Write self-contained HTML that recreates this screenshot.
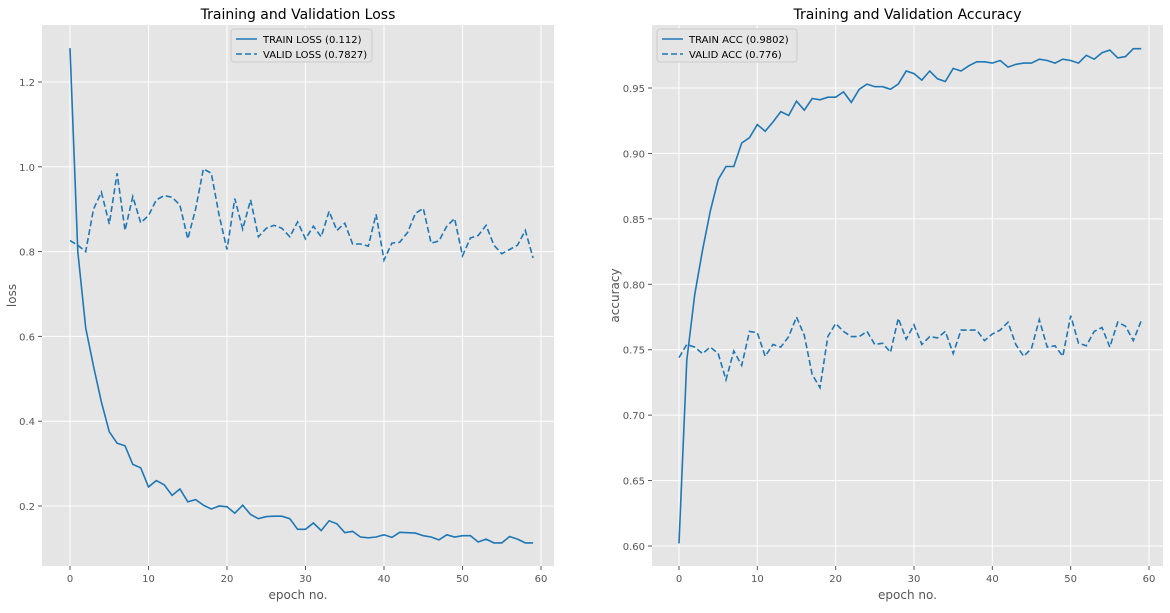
<!DOCTYPE html>
<html><head><meta charset="utf-8"><style>
body{margin:0;background:#fff;font-family:"DejaVu Sans",sans-serif}
svg text{font-family:"DejaVu Sans",sans-serif}
</style></head><body>
<svg id="c" width="1170" height="609"></svg>
<script>
const epochs = Array.from({length:60},(_,i)=>i);
const trainLoss=[1.28,0.80,0.62,0.53,0.445,0.375,0.348,0.342,0.298,0.29,0.245,0.26,0.25,0.225,0.24,0.21,0.215,0.202,0.193,0.2,0.198,0.183,0.202,0.18,0.17,0.175,0.176,0.176,0.17,0.145,0.145,0.16,0.142,0.165,0.158,0.137,0.14,0.127,0.125,0.127,0.132,0.126,0.138,0.137,0.136,0.13,0.127,0.12,0.132,0.127,0.13,0.13,0.115,0.122,0.113,0.113,0.128,0.122,0.113,0.113];
const validLoss=[0.826,0.815,0.80,0.90,0.94,0.865,0.985,0.85,0.93,0.868,0.885,0.922,0.932,0.928,0.91,0.83,0.90,0.995,0.985,0.885,0.805,0.925,0.853,0.922,0.835,0.855,0.862,0.855,0.835,0.87,0.83,0.86,0.835,0.895,0.85,0.867,0.818,0.818,0.813,0.888,0.78,0.82,0.822,0.845,0.89,0.902,0.82,0.825,0.86,0.878,0.79,0.832,0.838,0.862,0.815,0.795,0.805,0.815,0.85,0.785];
const trainAcc=[0.602,0.742,0.792,0.826,0.856,0.880,0.890,0.890,0.908,0.912,0.922,0.917,0.924,0.932,0.929,0.940,0.933,0.942,0.941,0.943,0.943,0.947,0.939,0.949,0.953,0.951,0.951,0.949,0.953,0.963,0.961,0.956,0.963,0.957,0.955,0.965,0.963,0.967,0.970,0.970,0.969,0.971,0.966,0.968,0.969,0.969,0.972,0.971,0.969,0.972,0.971,0.969,0.975,0.972,0.977,0.979,0.973,0.974,0.980,0.980];
const validAcc=[0.744,0.754,0.752,0.747,0.752,0.747,0.727,0.749,0.738,0.764,0.763,0.745,0.754,0.752,0.760,0.775,0.761,0.731,0.721,0.760,0.770,0.764,0.760,0.760,0.764,0.754,0.755,0.748,0.774,0.758,0.769,0.754,0.760,0.759,0.764,0.747,0.765,0.765,0.765,0.757,0.762,0.765,0.771,0.754,0.745,0.751,0.773,0.752,0.753,0.745,0.776,0.755,0.753,0.764,0.767,0.752,0.771,0.768,0.757,0.772];
const xTicks=[0,10,20,30,40,50,60];
const lossTicks=[0.2,0.4,0.6,0.8,1.0,1.2];
const accTicks=[0.60,0.65,0.70,0.75,0.80,0.85,0.90,0.95];

const svg=document.getElementById('c');
const NS='http://www.w3.org/2000/svg';
function mk(tag,attrs,parent,txt){const e=document.createElementNS(NS,tag);for(const k in attrs)e.setAttribute(k,attrs[k]);if(txt!==undefined)e.textContent=txt;(parent||svg).appendChild(e);return e;}

function panel(cfg){
  const g=mk('g',{});
  
  
  const {x0,x1,y0,y1}=cfg;
  const sx=v=>cfg.px0+(v-0)*(cfg.px60-cfg.px0)/60;
  const sy=v=>cfg.pyA+(v-cfg.vA)*(cfg.pyB-cfg.pyA)/(cfg.vB-cfg.vA);
  const bg=mk('rect',{x:x0,y:y0,width:x1-x0,height:y1-y0,fill:'#e5e5e5'},g);
  
  
  xTicks.forEach(t=>{const X=sx(t);
    mk('line',{x1:X,x2:X,y1:y0,y2:y1,stroke:'#fff','stroke-width':1},g);
    mk('line',{x1:X,x2:X,y1:y1,y2:y1+4,stroke:'#555'},g);
    const tl=mk('text',{x:X,y:y1+16,'font-size':10,fill:'#555','text-anchor':'middle'},g,String(t));
    
    
  });
  cfg.yTicks.forEach(t=>{const Y=sy(t);
    mk('line',{x1:x0,x2:x1,y1:Y,y2:Y,stroke:'#fff','stroke-width':1},g);
    mk('line',{x1:x0-4,x2:x0,y1:Y,y2:Y,stroke:'#555'},g);
    const tl=mk('text',{x:x0-7,y:Y+4,'font-size':10,fill:'#555','text-anchor':'end'},g,t.toFixed(cfg.dec));
    
    
  });
  const mkLine=(arr,dash,nm)=>{
    const d=arr.map((v,i)=>(i?'L':'M')+sx(epochs[i]).toFixed(1)+','+sy(v).toFixed(1)).join('');
    const p=mk('path',{d:d,fill:'none',stroke:'#1f77b4','stroke-width':1.6,'stroke-dasharray':dash||'none'},g);
    
    
  };
  mkLine(cfg.train,null,'train-line');
  mkLine(cfg.valid,'6,3','valid-line');
  const t=mk('text',{x:(x0+x1)/2,y:19,'font-size':14,fill:'#000','text-anchor':'middle'},g,cfg.title);
  
  
  const xl=mk('text',{x:(x0+x1)/2,y:599,'font-size':12,fill:'#555','text-anchor':'middle'},g,'epoch no.');
  
  
  const yl=mk('text',{x:0,y:0,'font-size':12,fill:'#555','text-anchor':'middle',transform:`translate(${cfg.ylx},${(y0+y1)/2}) rotate(-90)`},g,cfg.ylabel);
  
  
  const lg=mk('g',{},g);
  
  
  mk('rect',{x:cfg.lx,y:29,width:cfg.lw,height:33,rx:3,fill:'#e5e5e5',stroke:'#ccc'},lg);
  mk('line',{x1:cfg.lx+5,x2:cfg.lx+26,y1:39,y2:39,stroke:'#1f77b4','stroke-width':1.6},lg);
  mk('line',{x1:cfg.lx+5,x2:cfg.lx+26,y1:54,y2:54,stroke:'#1f77b4','stroke-width':1.6,'stroke-dasharray':'6,3'},lg);
  const e1=mk('text',{x:cfg.lx+32,y:43,'font-size':10,fill:'#000'},lg,cfg.l1);
  
  
  const e2=mk('text',{x:cfg.lx+32,y:58,'font-size':10,fill:'#000'},lg,cfg.l2);
  
  
}
panel({name:'loss-panel',x0:42,x1:554,y0:25,y1:566,px0:70,px60:541,vA:1.2,pyA:82,vB:0.2,pyB:506,yTicks:lossTicks,dec:1,
  train:trainLoss,valid:validLoss,title:'Training and Validation Loss',ylabel:'loss',ylx:16,lx:231,lw:141,l1:'TRAIN LOSS (0.112)',l2:'VALID LOSS (0.7827)'});
panel({name:'accuracy-panel',x0:652,x1:1163,y0:25,y1:566,px0:679,px60:1149,vA:0.95,pyA:88,vB:0.60,pyB:546,yTicks:accTicks,dec:2,
  train:trainAcc,valid:validAcc,title:'Training and Validation Accuracy',ylabel:'accuracy',ylx:619,lx:657,lw:140,l1:'TRAIN ACC (0.9802)',l2:'VALID ACC (0.776)'});
</script>
</body></html>
